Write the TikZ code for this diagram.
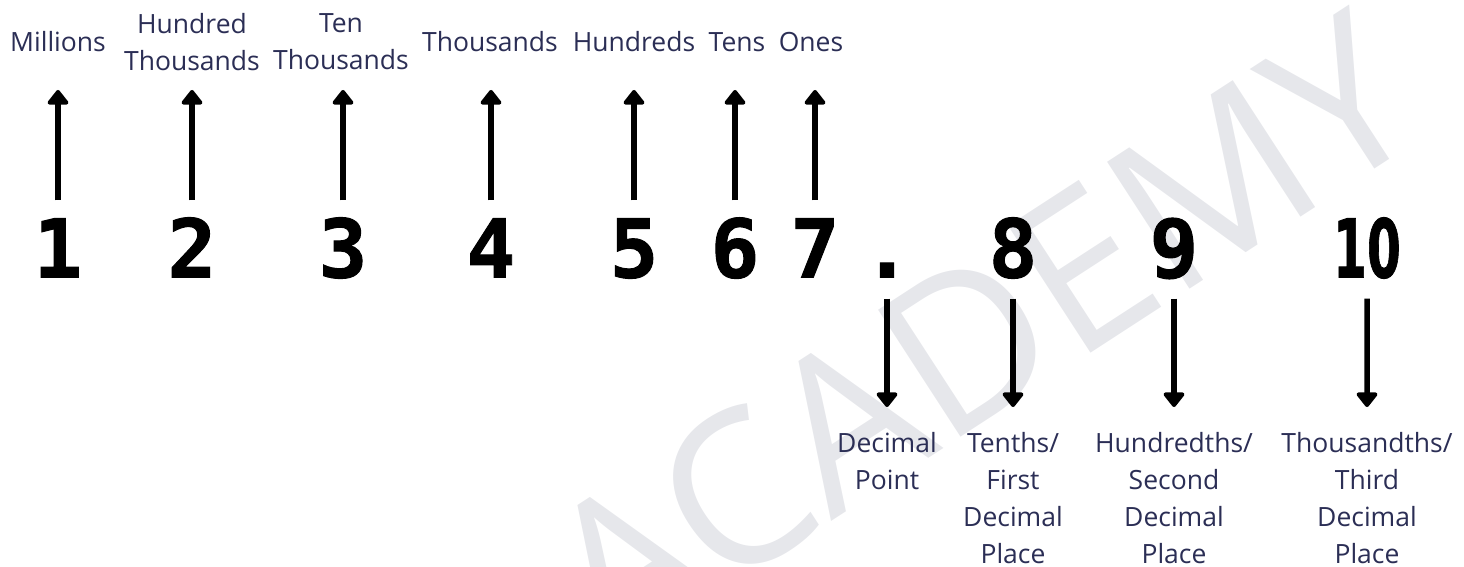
\documentclass[tikz,border=0pt]{standalone}
\usepackage{fontspec}
\setmainfont{Open Sans}
\newfontfamily\digitfont{DejaVu Sans Mono}[FakeBold=1.2]
\newfontfamily\tenfont{DejaVu Sans}[FakeBold=1.2]
\usetikzlibrary{arrows.meta,positioning}
\definecolor{placeNavy}{HTML}{2B2E55}
\definecolor{placeMarkGray}{HTML}{E6E7EB}

\begin{document}
\begin{tikzpicture}[
    x=1pt, y=-1pt,
    placeDigitStyle/.style={inner sep=0pt, text height=59pt, text depth=0pt,
        font=\digitfont\bfseries\fontsize{81}{81}\selectfont},
    placeLabelStyle/.style={inner sep=0pt, align=center, text=placeNavy,
        font=\fontsize{26.5}{37}\selectfont},
    placeUpStyle/.style={-{Triangle[width=24pt, length=16pt, round]},
        line width=5.5pt, shorten <=18pt},
    placeDownStyle/.style={-{Triangle[width=24pt, length=16pt, round]},
        line width=5.5pt, shorten <=21pt, shorten >=25pt},
    placeMarkStyle/.style={text=placeMarkGray, inner sep=0pt, rotate=33,
        font=\fontsize{212}{212}\selectfont}
]
    \useasboundingbox (0,0) rectangle (1464,567);
    \clip (0,0) rectangle (1464,567);

    % --- watermark ---
    \node[placeMarkStyle] (mark) at (980,335) {ACADEMY};

    % --- digits ---
    \node[placeDigitStyle] (d1) at (58,248) {1};
    \node[placeDigitStyle] (d2) at (192,248) {2};
    \node[placeDigitStyle] (d3) at (343,248) {3};
    \node[placeDigitStyle] (d4) at (491,248) {4};
    \node[placeDigitStyle] (d5) at (634,248) {5};
    \node[placeDigitStyle] (d6) at (735,248) {6};
    \node[placeDigitStyle] (d7) at (815,248) {7};
    \node[placeDigitStyle] (dp) at (887,248) {.};
    \node[placeDigitStyle] (d8) at (1013,248) {8};
    \node[placeDigitStyle] (d9) at (1174,248) {9};
    \node[placeDigitStyle, font=\tenfont\bfseries\fontsize{81}{81}\selectfont,
        xscale=0.6] (d10) at (1367,248) {10};

    % --- whole number places ---
    \node[placeLabelStyle] (l1) at (58,42) {Millions};
    \node[placeLabelStyle] (l2) at (192,42) {Hundred\\Thousands};
    \node[placeLabelStyle] (l3) at (341,42) {Ten\\Thousands};
    \node[placeLabelStyle] (l4) at (490,42) {Thousands};
    \node[placeLabelStyle] (l5) at (634,42) {Hundreds};
    \node[placeLabelStyle] (l6) at (737,42) {Tens};
    \node[placeLabelStyle] (l7) at (811,42) {Ones};

    \coordinate[below=48pt of l1.center] (u1);
    \coordinate[below=48pt of l2.center] (u2);
    \coordinate[below=48pt of l3.center] (u3);
    \coordinate[below=48pt of l4.center] (u4);
    \coordinate[below=48pt of l5.center] (u5);
    \coordinate[below=48pt of l6.center] (u6);
    \coordinate[below=48pt of l7.center] (u7);

    \draw[placeUpStyle] (d1) -- (d1 |- u1);
    \draw[placeUpStyle] (d2) -- (d2 |- u2);
    \draw[placeUpStyle] (d3) -- (d3 |- u3);
    \draw[placeUpStyle] (d4) -- (d4 |- u4);
    \draw[placeUpStyle] (d5) -- (d5 |- u5);
    \draw[placeUpStyle] (d6) -- (d6 |- u6);
    \draw[placeUpStyle] (d7) -- (d7 |- u7);

    % --- decimal places ---
    \node[placeLabelStyle, anchor=north] (b1) at (887,432) {Decimal\\Point};
    \node[placeLabelStyle, anchor=north] (b2) at (1013,432) {Tenths/\\First\\Decimal\\Place};
    \node[placeLabelStyle, anchor=north] (b3) at (1174,432) {Hundredths/\\Second\\Decimal\\Place};
    \node[placeLabelStyle, anchor=north] (b4) at (1367,432) {Thousandths/\\Third\\Decimal\\Place};

    \draw[placeDownStyle] (dp) -- (b1);
    \draw[placeDownStyle] (d8) -- (b2);
    \draw[placeDownStyle] (d9) -- (b3);
    \draw[placeDownStyle] (d10) -- (b4);
\end{tikzpicture}
\end{document}
